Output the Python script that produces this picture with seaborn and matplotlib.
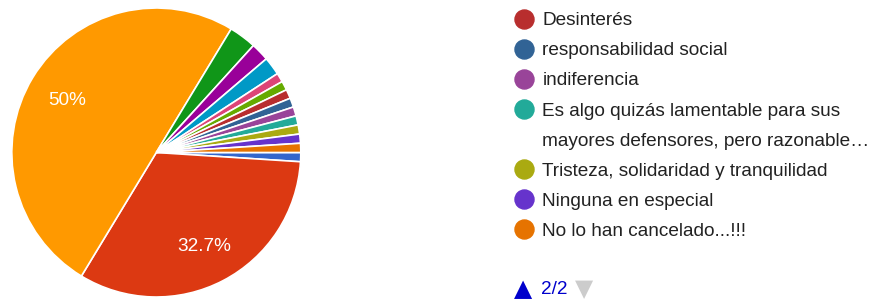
import matplotlib
matplotlib.use("Agg")
import matplotlib.pyplot as plt
from matplotlib.lines import Line2D
import seaborn as sns

# respuestas en el orden de la serie (la página 1 de la leyenda no se ve)
responses = ["", "", "", "", "", "", "", "",
             "Desinterés",
             "responsabilidad social",
             "indiferencia",
             "Es algo quizás lamentable para sus\nmayores defensores, pero razonable…",
             "Tristeza, solidaridad y tranquilidad",
             "Ninguna en especial",
             "No lo han cancelado...!!!"]
counts = [1, 32, 49, 3, 2, 2, 1, 1, 1, 1, 1, 1, 1, 1, 1]
colors = ["#3366cc", "#dc3912", "#ff9900", "#109618", "#990099", "#0099c6",
          "#dd4477", "#66aa00", "#b82e2e", "#316395", "#994499", "#22aa99",
          "#aaaa11", "#6633cc", "#e67300"]
legend_page = "2/2"
first_on_page = 8

sns.set_theme(style="white")
plt.rcParams['font.family'] = ['Liberation Sans', 'DejaVu Sans']

W, H = 880, 301
fig = plt.figure(figsize=(W / 100, H / 100), dpi=100)

# pie: centro ~ (156, 152.5) px, radio ~144 px
cx, cy, r = 156.3, 152.5, 144.5
ax = fig.add_axes([(cx - r) / W, (H - cy - r) / H, 2 * r / W, 2 * r / H])


def pct_label(p):
    # solo se rotulan las porciones grandes
    return f"{p:.3g}%" if p > 8 else ""


wedges, _, _ = ax.pie(counts, colors=colors, startangle=0, counterclock=False,
                      autopct=pct_label, pctdistance=0.72,
                      wedgeprops=dict(edgecolor="white", linewidth=1.2),
                      textprops=dict(color="white", fontsize=13.7,
                                     va="center_baseline"))
ax.set_xlim(-1.0, 1.0)
ax.set_ylim(-1.0, 1.0)
ax.set_aspect("equal")

# leyenda (página 2): las etiquetas largas se parten en dos renglones
handles, labels = [], []
for lab, col in zip(responses[first_on_page:], colors[first_on_page:]):
    lines = lab.split("\n")
    handles.append(Line2D([], [], marker="o", linestyle="", markersize=13.7,
                          markerfacecolor=col, markeredgecolor=col))
    labels.append(lines[0])
    for extra in lines[1:]:
        handles.append(Line2D([], [], marker="", linestyle=""))
        labels.append(extra)

fig.legend(handles, labels, loc="upper left",
           bbox_to_anchor=(514.6 / W, 1 - 12 / H),
           frameon=False, handlelength=1.0, handletextpad=0.46,
           labelspacing=0.67, borderpad=0, borderaxespad=0,
           fontsize=13.7, labelcolor="#222222")

# paginación de la leyenda
fig.text(514 / W, 1 - 289 / H, "▲", color="#0000cc", fontsize=17,
         family="DejaVu Sans", va="center", ha="left")
fig.text(541 / W, 1 - 289 / H, legend_page, color="#0000cc", fontsize=13.7,
         va="center", ha="left")
fig.text(575 / W, 1 - 289 / H, "▼", color="#cccccc", fontsize=17,
         family="DejaVu Sans", va="center", ha="left")

fig.savefig("out.png", dpi=100)
